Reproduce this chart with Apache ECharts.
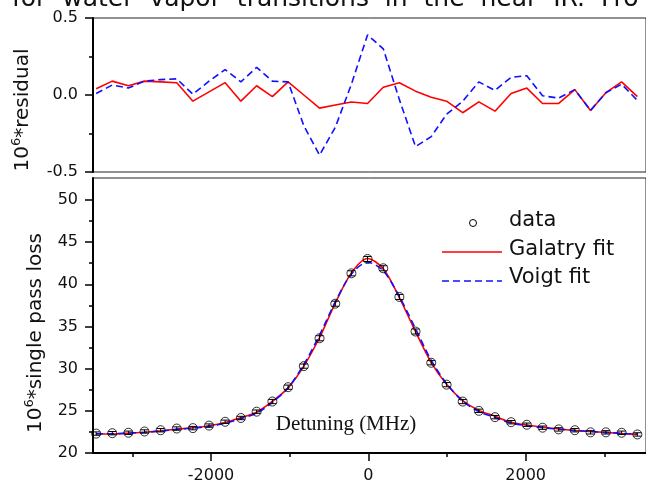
<!DOCTYPE html>
<html>
<head>
<meta charset="utf-8">
<script src="https://cdn.jsdelivr.net/npm/echarts@6/dist/echarts.min.js"></script>
<style>
  html, body { margin: 0; padding: 0; background: #ffffff; }
  #chart { width: 646px; height: 485px; }
</style>
</head>
<body>
<div id="chart"></div>
<script>
// Detuning of each measured point (MHz)
const detuning = [-3460, -3255, -3050, -2845, -2640, -2435, -2230, -2025, -1820, -1620,
                  -1420, -1220, -1020, -820, -620, -420, -215, -10, 190, 395,
                  600, 800, 995, 1200, 1405, 1610, 1815, 2015, 2215, 2420,
                  2625, 2825, 3020, 3220, 3420];
// Measured single pass loss (x 1e6)
const loss = [22.3, 22.35, 22.4, 22.55, 22.7, 22.9, 22.95, 23.25, 23.7, 24.15,
              24.9, 26.1, 27.8, 30.3, 33.6, 37.7, 41.3, 43.0, 41.9, 38.5,
              34.4, 30.7, 28.1, 26.1, 25.0, 24.25, 23.65, 23.35, 23.0, 22.8,
              22.7, 22.45, 22.45, 22.4, 22.2];
// Uncertainty of each measured point
const lossErr = [0.2, 0.2, 0.2, 0.2, 0.2, 0.2, 0.2, 0.2, 0.2, 0.2,
                 0.2, 0.25, 0.25, 0.25, 0.3, 0.3, 0.3, 0.3, 0.3, 0.3,
                 0.3, 0.25, 0.25, 0.25, 0.2, 0.2, 0.2, 0.2, 0.2, 0.2,
                 0.2, 0.2, 0.2, 0.2, 0.2];
// Fitted profiles
const galatryFit = [22.26, 22.26, 22.34, 22.46, 22.62, 22.82, 22.99, 23.23, 23.62, 24.19,
                    24.84, 26.11, 27.72, 30.30, 33.69, 37.77, 41.35, 43.06, 41.85, 38.42,
                    34.38, 30.72, 28.14, 26.22, 25.05, 24.36, 23.64, 23.31, 23.06, 22.86,
                    22.67, 22.55, 22.44, 22.32, 22.21];
const voigtFit = [22.29, 22.29, 22.36, 22.46, 22.60, 22.80, 22.95, 23.16, 23.54, 24.07,
                  24.72, 26.01, 27.72, 30.49, 33.99, 37.91, 41.23, 42.61, 41.60, 38.53,
                  34.74, 30.97, 28.23, 26.14, 24.92, 24.22, 23.54, 23.23, 23.01, 22.82,
                  22.67, 22.55, 22.44, 22.33, 22.24];
// Residuals of the two fits (x 1e6)
const galatryResidual = [0.04, 0.09, 0.06, 0.09, 0.085, 0.08, -0.04, 0.02, 0.08, -0.04,
                         0.06, -0.01, 0.085, 0.0, -0.085, -0.065, -0.045, -0.055, 0.05, 0.08,
                         0.025, -0.015, -0.04, -0.115, -0.045, -0.105, 0.01, 0.045, -0.055, -0.055,
                         0.035, -0.1, 0.015, 0.085, -0.01];
const voigtResidual = [0.01, 0.065, 0.045, 0.09, 0.1, 0.105, 0.005, 0.09, 0.165, 0.085,
                       0.18, 0.09, 0.085, -0.2, -0.39, -0.21, 0.07, 0.39, 0.3, -0.03,
                       -0.335, -0.27, -0.125, -0.04, 0.085, 0.03, 0.115, 0.125, -0.005, -0.02,
                       0.035, -0.1, 0.015, 0.07, -0.035];

// Axis ticks
const xLabelTicks = [-2000, 0, 2000];
const xMinorTicks = [-3000, -1000, 1000, 3000];
const resLabelTicks = [-0.5, 0, 0.5];
const resMinorTicks = [-0.25, 0.25];
const lossLabelTicks = [20, 25, 30, 35, 40, 45, 50];
const lossMinorTicks = [22.5, 27.5, 32.5, 37.5, 42.5, 47.5];

const SANS = '"DejaVu Sans", sans-serif';
const RED = '#ff0000';
const BLUE = '#1010ff';

const chart = echarts.init(document.getElementById('chart'), null, { renderer: 'canvas' });

const pairs = (ys) => detuning.map((d, i) => [d, ys[i]]);

function mainAxisBase(extra) {
  return Object.assign({
    type: 'value',
    splitLine: { show: false },
    axisLine: { show: true, onZero: false, lineStyle: { color: '#000', width: 2 } },
    axisTick: { show: true, inside: false, length: 8, lineStyle: { color: '#000', width: 1.5 } },
    axisLabel: { show: true, color: '#111', fontFamily: SANS, fontSize: 16 }
  }, extra);
}
function minorAxis(extra, values) {
  return Object.assign({
    type: 'value',
    splitLine: { show: false },
    axisLine: { show: false, onZero: false },
    axisTick: { show: true, inside: false, length: 4, customValues: values, lineStyle: { color: '#000', width: 1.5 } },
    axisLabel: { show: false, customValues: values }
  }, extra);
}

const option = {
  animation: false,
  backgroundColor: '#ffffff',
  grid: [
    { left: 93, top: 18, width: 560, height: 154, show: true, borderColor: '#222', borderWidth: 1, backgroundColor: 'transparent' },
    { left: 93, top: 178, width: 560, height: 275, show: true, borderColor: '#222', borderWidth: 1, backgroundColor: 'transparent' }
  ],
  xAxis: [
    { type: 'value', gridIndex: 0, min: -3500, max: 3530, show: false },
    mainAxisBase({
      gridIndex: 1, min: -3500, max: 3530, position: 'bottom',
      axisTick: { show: true, length: 8, customValues: xLabelTicks, lineStyle: { color: '#000', width: 1.5 } },
      axisLabel: { show: true, customValues: xLabelTicks, margin: 15, color: '#111', fontFamily: SANS, fontSize: 16,
                   formatter: (v) => String(v) }
    }),
    minorAxis({ gridIndex: 1, min: -3500, max: 3530, position: 'bottom' }, xMinorTicks)
  ],
  yAxis: [
    mainAxisBase({
      gridIndex: 0, min: -0.5, max: 0.5, position: 'left',
      axisTick: { show: true, length: 8, customValues: resLabelTicks, lineStyle: { color: '#000', width: 1.5 } },
      axisLabel: { show: true, customValues: resLabelTicks, margin: 15, color: '#111', fontFamily: SANS, fontSize: 16,
                   formatter: (v) => Number(v).toFixed(1) }
    }),
    minorAxis({ gridIndex: 0, min: -0.5, max: 0.5, position: 'left' }, resMinorTicks),
    mainAxisBase({
      gridIndex: 1, min: 20, max: 52.6, position: 'left',
      axisTick: { show: true, length: 8, customValues: lossLabelTicks, lineStyle: { color: '#000', width: 1.5 } },
      axisLabel: { show: true, customValues: lossLabelTicks, margin: 15, color: '#111', fontFamily: SANS, fontSize: 16,
                   formatter: (v) => String(v) }
    }),
    minorAxis({ gridIndex: 1, min: 20, max: 52.6, position: 'left' }, lossMinorTicks)
  ],
  series: [
    {
      name: 'Galatry residual', type: 'line', xAxisIndex: 0, yAxisIndex: 0,
      data: pairs(galatryResidual), symbol: 'none', z: 3,
      lineStyle: { color: RED, width: 1.6 }
    },
    {
      name: 'Voigt residual', type: 'line', xAxisIndex: 0, yAxisIndex: 0,
      data: pairs(voigtResidual), symbol: 'none', z: 4,
      lineStyle: { color: BLUE, width: 1.6, type: [7, 4] }
    },
    {
      name: 'Galatry fit', type: 'line', xAxisIndex: 1, yAxisIndex: 2,
      data: pairs(galatryFit), symbol: 'none', smooth: 0.3, z: 3,
      lineStyle: { color: RED, width: 1.6 }
    },
    {
      name: 'Voigt fit', type: 'line', xAxisIndex: 1, yAxisIndex: 2,
      data: pairs(voigtFit), symbol: 'none', smooth: 0.3, z: 4,
      lineStyle: { color: BLUE, width: 1.6, type: [7, 4] }
    },
    {
      name: 'error', type: 'custom', xAxisIndex: 1, yAxisIndex: 2, z: 5,
      data: detuning.map((d, i) => [d, loss[i], lossErr[i]]),
      renderItem: function (params, api) {
        const x = api.value(0), y = api.value(1), e = api.value(2);
        const hi = api.coord([x, y + e]);
        const lo = api.coord([x, y - e]);
        const hw = 4;
        const st = { stroke: '#000', lineWidth: 1 };
        return {
          type: 'group',
          children: [
            { type: 'line', shape: { x1: hi[0], y1: hi[1], x2: lo[0], y2: lo[1] }, style: st },
            { type: 'line', shape: { x1: hi[0] - hw, y1: hi[1], x2: hi[0] + hw, y2: hi[1] }, style: st },
            { type: 'line', shape: { x1: lo[0] - hw, y1: lo[1], x2: lo[0] + hw, y2: lo[1] }, style: st }
          ]
        };
      }
    },
    {
      name: 'data', type: 'scatter', xAxisIndex: 1, yAxisIndex: 2, z: 6,
      data: pairs(loss), symbol: 'circle', symbolSize: 9,
      itemStyle: { color: 'rgba(0,0,0,0)', borderColor: '#000', borderWidth: 1 }
    }
  ],
  graphic: [
    // clipped heading line above the figure
    {
      type: 'text', x: 12, y: -1, z: 10,
      style: { text: 'for  water  vapor  transitions  in  the  near  IR.  Fro', fill: '#111',
               font: '25px ' + SANS, textVerticalAlign: 'middle' }
    },
    // axis titles
    {
      type: 'text', x: 23, y: 110, rotation: Math.PI / 2, z: 10,
      style: {
        text: '{a|10}{b|6}{a|*residual}', align: 'center', verticalAlign: 'middle',
        textAlign: 'center', textVerticalAlign: 'middle',
        rich: {
          a: { fontFamily: SANS, fontSize: 20, fill: '#111', color: '#111', lineHeight: 26 },
          b: { fontFamily: SANS, fontSize: 13, fill: '#111', color: '#111', lineHeight: 26, verticalAlign: 'top' }
        }
      }
    },
    {
      type: 'text', x: 36, y: 333, rotation: Math.PI / 2, z: 10,
      style: {
        text: '{a|10}{b|6}{a|*single pass loss}', align: 'center', verticalAlign: 'middle',
        textAlign: 'center', textVerticalAlign: 'middle',
        rich: {
          a: { fontFamily: SANS, fontSize: 20, fill: '#111', color: '#111', lineHeight: 26 },
          b: { fontFamily: SANS, fontSize: 13, fill: '#111', color: '#111', lineHeight: 26, verticalAlign: 'top' }
        }
      }
    },
    {
      type: 'text', x: 346, y: 424, z: 10,
      style: { text: 'Detuning (MHz)', fill: '#111', font: '21px "Liberation Serif", serif',
               textAlign: 'center', textVerticalAlign: 'middle' }
    },
    // legend
    {
      type: 'circle', shape: { cx: 473, cy: 223, r: 3.5 }, z: 10,
      style: { fill: 'none', stroke: '#000', lineWidth: 1 }
    },
    {
      type: 'text', x: 509, y: 221, z: 10,
      style: { text: 'data', fill: '#111', font: '21px ' + SANS, textVerticalAlign: 'middle' }
    },
    {
      type: 'line', shape: { x1: 442, y1: 252, x2: 502, y2: 252 }, z: 10,
      style: { stroke: RED, lineWidth: 1.6 }
    },
    {
      type: 'text', x: 509, y: 250, z: 10,
      style: { text: 'Galatry fit', fill: '#111', font: '21px ' + SANS, textVerticalAlign: 'middle' }
    },
    {
      type: 'line', shape: { x1: 442, y1: 281, x2: 502, y2: 281 }, z: 10,
      style: { stroke: BLUE, lineWidth: 1.6, lineDash: [7, 4] }
    },
    {
      type: 'text', x: 509, y: 278, z: 10,
      style: { text: 'Voigt fit', fill: '#111', font: '21px ' + SANS, textVerticalAlign: 'middle' }
    }
  ]
};

chart.setOption(option);
</script>
</body>
</html>
